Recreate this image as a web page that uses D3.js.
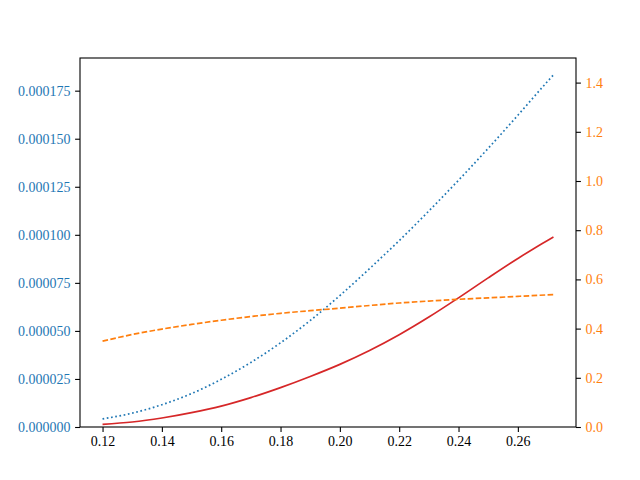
<!DOCTYPE html>
<html>
<head>
<meta charset="utf-8">
<script src="https://cdn.jsdelivr.net/npm/d3@7"></script>
<style>
  html, body { margin: 0; padding: 0; background: #fff; }
  svg text { font-family: "Liberation Serif", "DejaVu Serif", serif; font-size: 14px; }
</style>
</head>
<body>
<svg id="chart" width="640" height="480"></svg>
<script>
// ---- data ----
const xValues = [0.12, 0.13, 0.14, 0.15, 0.16, 0.17, 0.18, 0.19, 0.20, 0.21, 0.22, 0.23, 0.24, 0.25, 0.26, 0.27, 0.272];
// blue dotted, left axis
const blueValues = [4.2e-6, 7.2e-6, 1.16e-5, 1.74e-5, 2.48e-5, 3.36e-5, 4.38e-5, 5.54e-5, 6.84e-5, 8.24e-5, 9.70e-5, 1.124e-4, 1.284e-4, 1.450e-4, 1.622e-4, 1.798e-4, 1.832e-4];
// red solid, left axis
const redValues = [1.4e-6, 2.6e-6, 4.7e-6, 7.5e-6, 1.09e-5, 1.53e-5, 2.05e-5, 2.63e-5, 3.26e-5, 3.98e-5, 4.80e-5, 5.72e-5, 6.72e-5, 7.76e-5, 8.77e-5, 9.71e-5, 9.88e-5];
// orange dashed, right axis
const orangeValues = [0.349, 0.376, 0.398, 0.417, 0.434, 0.449, 0.462, 0.473, 0.483, 0.494, 0.504, 0.512, 0.519, 0.525, 0.531, 0.537, 0.538];

const xTicks = [0.12, 0.14, 0.16, 0.18, 0.20, 0.22, 0.24, 0.26];
const leftTicks = [0, 0.000025, 0.00005, 0.000075, 0.0001, 0.000125, 0.00015, 0.000175];
const rightTicks = [0.0, 0.2, 0.4, 0.6, 0.8, 1.0, 1.2, 1.4];
const leftMax = 0.000192;
const rightMax = 1.5;

// ---- layout ----
const L = 80, R = 576, T = 58, B = 427;
const svg = d3.select("#chart");

const xMin = d3.min(xValues), xMaxV = d3.max(xValues);
const pad = (xMaxV - xMin) * 0.05;
const x = d3.scaleLinear().domain([xMin - pad, xMaxV + pad]).range([L, R]);
const yL = d3.scaleLinear().domain([0, leftMax]).range([B, T]);
const yR = d3.scaleLinear().domain([0, rightMax]).range([B, T]);

const blue = "#1f77b4", orange = "#ff7f0e", red = "#d62728";

const line = (yScale, vals) => d3.line()
  .curve(d3.curveMonotoneX)
  .x((d, i) => x(xValues[i]))
  .y((d) => yScale(d))(vals);

svg.append("path").attr("d", line(yL, blueValues))
  .attr("fill", "none").attr("stroke", blue).attr("stroke-width", 1.7)
  .attr("stroke-dasharray", "1.7,2.6");
svg.append("path").attr("d", line(yL, redValues))
  .attr("fill", "none").attr("stroke", red).attr("stroke-width", 1.7);
svg.append("path").attr("d", line(yR, orangeValues))
  .attr("fill", "none").attr("stroke", orange).attr("stroke-width", 1.7)
  .attr("stroke-dasharray", "5.6,2.4");

// axes
const xAxis = d3.axisBottom(x).tickValues(xTicks).tickFormat(d3.format(".2f")).tickSize(4.9).tickPadding(4.5);
const lAxis = d3.axisLeft(yL).tickValues(leftTicks).tickFormat(d3.format(".6f")).tickSize(4.9).tickPadding(4.5);
const rAxis = d3.axisRight(yR).tickValues(rightTicks).tickFormat(d3.format(".1f")).tickSize(4.9).tickPadding(4.5);

const gx = svg.append("g").attr("transform", `translate(0,${B})`).call(xAxis);
const gl = svg.append("g").attr("transform", `translate(${L},0)`).call(lAxis);
const gr = svg.append("g").attr("transform", `translate(${R},0)`).call(rAxis);

[gx, gl, gr].forEach(g => {
  g.select(".domain").remove();
  g.selectAll("line").attr("stroke", "#000").attr("stroke-width", 1.1);
  g.selectAll("text").style("font-family", '"Liberation Serif", "DejaVu Serif", serif').style("font-size", "14px");
});
gx.selectAll("text").attr("fill", "#000");
gl.selectAll("text").attr("fill", blue);
gr.selectAll("text").attr("fill", orange);

// frame
svg.append("rect").attr("x", L).attr("y", T).attr("width", R - L).attr("height", B - T)
  .attr("fill", "none").attr("stroke", "#000").attr("stroke-width", 1.1);
</script>
</body>
</html>
